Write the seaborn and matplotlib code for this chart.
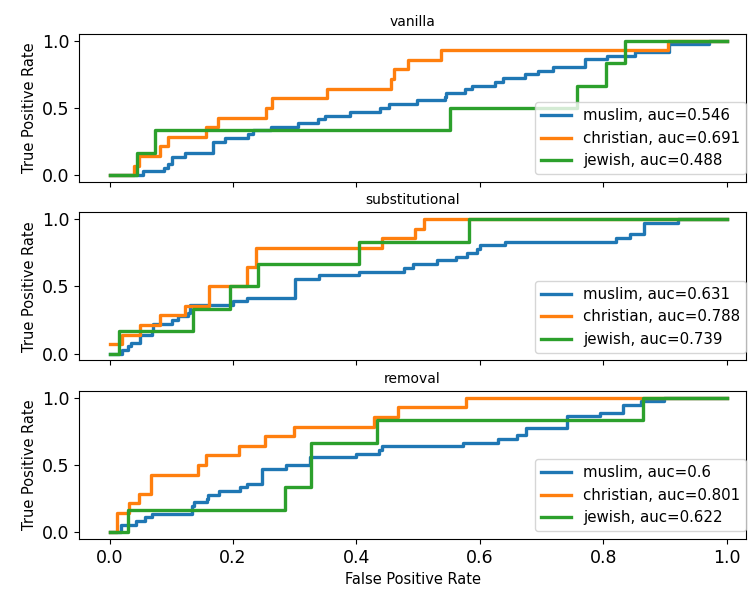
import numpy as np
import pandas as pd
import matplotlib
matplotlib.use("Agg")
import matplotlib.pyplot as plt
import seaborn as sns

# ---------------- data (step corners of ROC curves) ----------------
panels = ["vanilla", "substitutional", "removal"]
groups = ["muslim", "christian", "jewish"]
colors = ["#1f77b4", "#ff7f0e", "#2ca02c"]

auc_vanilla = [0.546, 0.691, 0.488]
auc_substitutional = [0.631, 0.788, 0.739]
auc_removal = [0.6, 0.801, 0.622]

# vanilla
van_muslim_fpr = [0.0, 0.055, 0.089, 0.095, 0.102, 0.123, 0.168, 0.187, 0.225, 0.232, 0.261, 0.306,
                  0.338, 0.349, 0.389, 0.438, 0.453, 0.498, 0.544, 0.546, 0.576, 0.587, 0.625, 0.638,
                  0.674, 0.694, 0.719, 0.771, 0.806, 0.852, 0.906, 0.971, 1.0]
van_muslim_tpr = [0.0, 0.028, 0.056, 0.083, 0.139, 0.167, 0.25, 0.278, 0.306, 0.333, 0.361, 0.389,
                  0.417, 0.444, 0.472, 0.5, 0.528, 0.556, 0.583, 0.611, 0.639, 0.667, 0.694, 0.722,
                  0.75, 0.778, 0.806, 0.861, 0.889, 0.917, 0.972, 1.0, 1.0]
van_christian_fpr = [0.0, 0.039, 0.048, 0.081, 0.095, 0.156, 0.176, 0.254, 0.264, 0.353, 0.456,
                     0.461, 0.483, 0.537, 0.905, 1.0]
van_christian_tpr = [0.0, 0.071, 0.143, 0.214, 0.286, 0.357, 0.429, 0.5, 0.571, 0.643, 0.714,
                     0.786, 0.857, 0.929, 1.0, 1.0]
van_jewish_fpr = [0.0, 0.044, 0.073, 0.551, 0.758, 0.804, 0.835, 1.0]
van_jewish_tpr = [0.0, 0.167, 0.333, 0.5, 0.667, 0.833, 1.0, 1.0]

# substitutional
sub_muslim_fpr = [0.0, 0.02, 0.03, 0.035, 0.049, 0.069, 0.07, 0.102, 0.111, 0.127, 0.13, 0.2,
                  0.222, 0.3, 0.34, 0.405, 0.477, 0.491, 0.531, 0.562, 0.58, 0.595, 0.601, 0.641,
                  0.821, 0.843, 0.866, 0.922, 1.0]
sub_muslim_tpr = [0.0, 0.028, 0.056, 0.083, 0.139, 0.167, 0.222, 0.25, 0.278, 0.306, 0.361, 0.389,
                  0.417, 0.556, 0.583, 0.611, 0.639, 0.667, 0.694, 0.722, 0.75, 0.778, 0.806, 0.833,
                  0.861, 0.889, 0.972, 1.0, 1.0]
sub_christian_fpr = [0.0, 0.02, 0.049, 0.082, 0.122, 0.162, 0.223, 0.238, 0.441, 0.495, 0.51, 1.0]
sub_christian_tpr = [0.071, 0.143, 0.214, 0.286, 0.357, 0.5, 0.643, 0.786, 0.857, 0.929, 1.0, 1.0]
sub_jewish_fpr = [0.0, 0.016, 0.136, 0.195, 0.24, 0.404, 0.582, 1.0]
sub_jewish_tpr = [0.0, 0.167, 0.333, 0.5, 0.667, 0.833, 1.0, 1.0]

# removal
rem_muslim_fpr = [0.0, 0.019, 0.043, 0.058, 0.069, 0.134, 0.137, 0.158, 0.16, 0.177, 0.212, 0.222,
                  0.247, 0.286, 0.325, 0.399, 0.436, 0.441, 0.573, 0.63, 0.66, 0.675, 0.742, 0.794,
                  0.832, 0.861, 0.898, 1.0]
rem_muslim_tpr = [0.0, 0.056, 0.083, 0.111, 0.139, 0.194, 0.222, 0.25, 0.278, 0.306, 0.333, 0.361,
                  0.472, 0.5, 0.556, 0.583, 0.611, 0.639, 0.667, 0.694, 0.722, 0.778, 0.861, 0.889,
                  0.944, 0.972, 1.0, 1.0]
rem_christian_fpr = [0.0, 0.012, 0.032, 0.048, 0.068, 0.143, 0.156, 0.21, 0.252, 0.299, 0.429,
                     0.468, 0.578, 1.0]
rem_christian_tpr = [0.0, 0.143, 0.214, 0.286, 0.429, 0.5, 0.571, 0.643, 0.714, 0.786, 0.857,
                     0.929, 1.0, 1.0]
rem_jewish_fpr = [0.0, 0.03, 0.284, 0.327, 0.433, 0.865, 1.0]
rem_jewish_tpr = [0.0, 0.167, 0.333, 0.667, 0.833, 1.0, 1.0]

curves = {
    "vanilla": [(van_muslim_fpr, van_muslim_tpr), (van_christian_fpr, van_christian_tpr),
                (van_jewish_fpr, van_jewish_tpr)],
    "substitutional": [(sub_muslim_fpr, sub_muslim_tpr), (sub_christian_fpr, sub_christian_tpr),
                       (sub_jewish_fpr, sub_jewish_tpr)],
    "removal": [(rem_muslim_fpr, rem_muslim_tpr), (rem_christian_fpr, rem_christian_tpr),
                (rem_jewish_fpr, rem_jewish_tpr)],
}
aucs = {"vanilla": auc_vanilla, "substitutional": auc_substitutional, "removal": auc_removal}

# ---------------- figure ----------------
fig = plt.figure(figsize=(7.48, 5.94), dpi=100)
axes = fig.subplots(3, 1, sharex=True)
fig.subplots_adjust(left=0.106, right=0.997, bottom=0.0926, top=0.9428, hspace=0.206)

for ax, panel in zip(axes, panels):
    for (fpr, tpr), grp, col, auc in zip(curves[panel], groups, colors, aucs[panel]):
        df = pd.DataFrame({"fpr": fpr, "tpr": tpr})
        sns.lineplot(data=df, x="fpr", y="tpr", ax=ax, color=col, linewidth=2.4,
                     estimator=None, sort=False, drawstyle="steps-post",
                     label=f"{grp}, auc={auc}")
    ax.set_title(panel, fontsize=10)
    ax.set_ylabel("True Positive Rate", fontsize=10.5)
    ax.set_xlabel("")
    ax.set_xlim(-0.049, 1.031)
    ax.set_ylim(-0.05, 1.05)
    ax.set_yticks([0.0, 0.5, 1.0])
    ax.set_xticks([0.0, 0.2, 0.4, 0.6, 0.8, 1.0])
    ax.tick_params(labelsize=12.5)
    ax.legend(loc="lower right", fontsize=10.8, bbox_to_anchor=(1.012, 0.0))

axes[-1].set_xlabel("False Positive Rate", fontsize=10.5)

fig.savefig("out.png", dpi=100)
